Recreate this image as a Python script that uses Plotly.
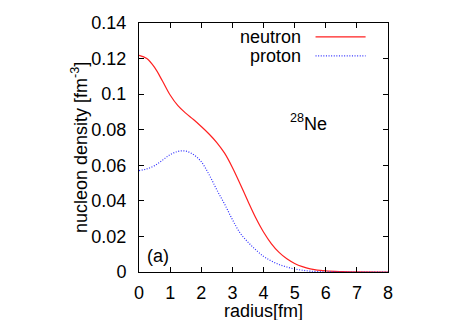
import plotly.graph_objects as go

# radial grid [fm] and densities [fm^-3]
radius = [0.0, 0.25, 0.5, 0.75, 1.0, 1.25, 1.5, 1.75, 2.0, 2.25, 2.5, 2.75, 3.0,
          3.25, 3.5, 3.75, 4.0, 4.25, 4.5, 4.75, 5.0, 5.25, 5.5, 6.0, 6.5, 7.0, 8.0]
neutron = [0.1218, 0.1200, 0.1150, 0.1075, 0.0995, 0.0935, 0.0893, 0.0857, 0.0818,
           0.0776, 0.0728, 0.0668, 0.0588, 0.0495, 0.0398, 0.0305, 0.0225, 0.0160,
           0.0110, 0.0074, 0.0048, 0.0030, 0.0018, 0.0006, 0.0002, 0.0001, 0.0]
proton = [0.0570, 0.0580, 0.0598, 0.0628, 0.0660, 0.0678, 0.0680, 0.0660, 0.0620,
          0.0548, 0.0462, 0.0382, 0.0295, 0.0219, 0.0168, 0.0125, 0.0088, 0.0062,
          0.0042, 0.0028, 0.0017, 0.0010, 0.0005, 0.0001, 0.0, 0.0, 0.0]

x_ticks = [0, 1, 2, 3, 4, 5, 6, 7, 8]
y_ticks = [0, 0.02, 0.04, 0.06, 0.08, 0.1, 0.12, 0.14]
y_tick_text = ["0", "0.02", "0.04", "0.06", "0.08", "0.1", "0.12", "0.14"]

FONT = "Liberation Sans, Arial, Helvetica, sans-serif"
RED = "#ff2020"
BLUE = "#3030ff"
DOTS = "1px,1.6px"

fig = go.Figure()
fig.add_trace(go.Scatter(x=radius, y=neutron, mode="lines", name="neutron",
                         line=dict(color=RED, width=1.2, shape="spline")))
fig.add_trace(go.Scatter(x=radius, y=proton, mode="lines", name="proton",
                         line=dict(color=BLUE, width=1.2, shape="spline", dash=DOTS)))

# gnuplot-style key: text right-aligned, sample line to its right
for label, ypos, color, dash in [("neutron", 0.944, RED, "solid"),
                                 ("proton", 0.868, BLUE, DOTS)]:
    fig.add_annotation(x=0.659, y=ypos, xref="paper", yref="paper", text=label,
                       showarrow=False, xanchor="right", yanchor="middle",
                       font=dict(size=18, color="black"))
    fig.add_shape(type="line", xref="paper", yref="paper", x0=0.709, x1=0.910,
                  y0=ypos, y1=ypos, line=dict(color=color, width=1.2, dash=dash))

fig.add_annotation(x=4.8, y=0.084, text="<sup>28</sup>Ne", showarrow=False,
                   xanchor="left", yanchor="middle", font=dict(size=18, color="black"))
fig.add_annotation(x=0.18, y=0.009, text="(a)", showarrow=False,
                   xanchor="left", yanchor="middle", font=dict(size=18, color="black"))

# axis titles as annotations so they sit as close to the ticks as gnuplot puts them
fig.add_annotation(x=0.5, y=-0.155, xref="paper", yref="paper", text="radius[fm]",
                   showarrow=False, xanchor="center", yanchor="middle",
                   font=dict(size=18, color="black"))
fig.add_annotation(x=-0.239, y=0.5, xref="paper", yref="paper",
                   text="nucleon density [fm<sup>-3</sup>]", textangle=-90,
                   showarrow=False, xanchor="center", yanchor="middle",
                   font=dict(size=18, color="black"))

axis_style = dict(showline=True, linecolor="black", linewidth=1, mirror="ticks",
                  ticks="inside", ticklen=5, tickcolor="black", showgrid=False,
                  zeroline=False, automargin=False,
                  tickfont=dict(size=18, color="black"))

# page body adds an 8px offset, so margins are shifted to compensate
fig.update_layout(
    width=457, height=320,
    margin=dict(l=131, r=77, t=15, b=56),
    paper_bgcolor="white", plot_bgcolor="white",
    font=dict(family=FONT, size=18, color="black"),
    showlegend=False,
    xaxis=dict(range=[0, 8], tickvals=x_ticks, ticklabelstandoff=4, **axis_style),
    yaxis=dict(range=[0, 0.14], tickvals=y_ticks, ticktext=y_tick_text,
               ticklabelstandoff=8, **axis_style),
)

fig.write_html("out.html")
